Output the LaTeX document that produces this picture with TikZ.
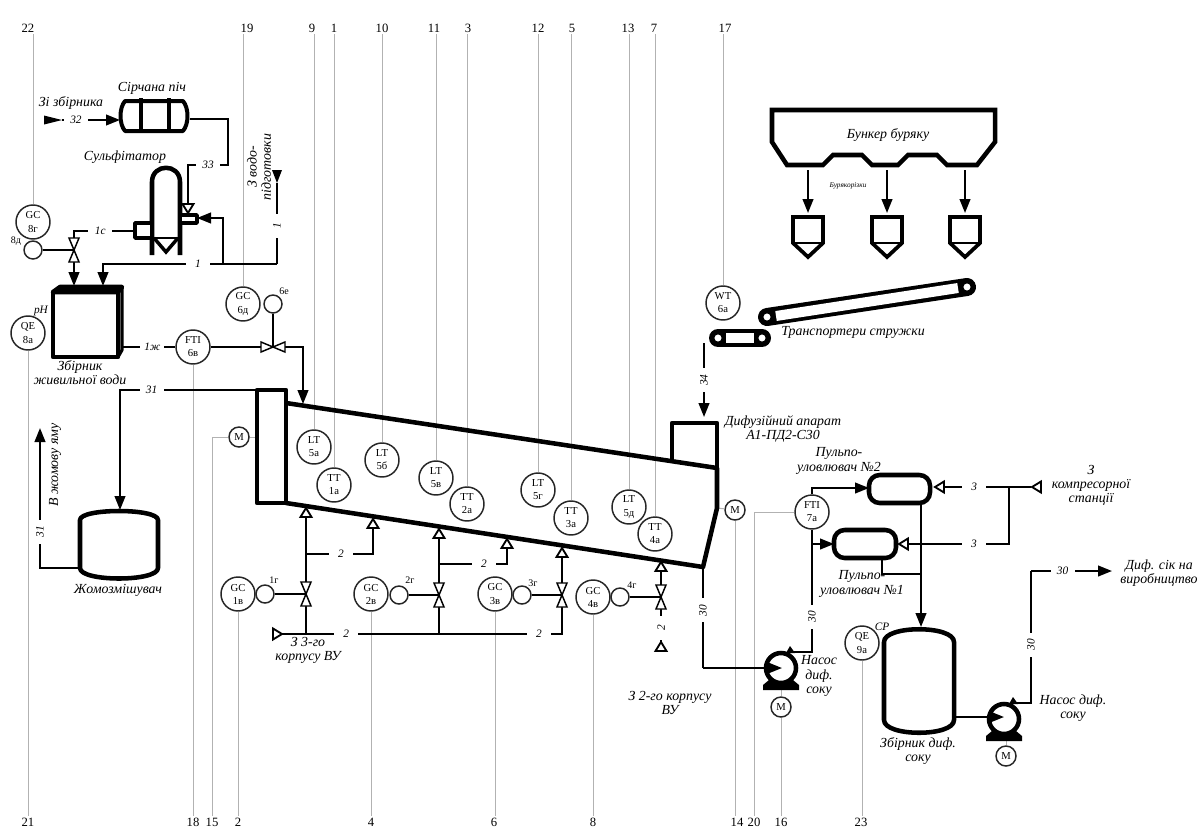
\documentclass[tikz,border=0pt]{standalone}
\usepackage{fontspec}
\setmainfont{Liberation Serif}
\usetikzlibrary{arrows.meta,calc}
\definecolor{leadgray}{gray}{0.7}
\tikzstyle{pipe} = [line width=1.6pt]
\tikzstyle{arrow} = [pipe,-{Triangle[length=10.5pt,width=8pt]}]
\tikzstyle{wall} = [line width=3.4pt,line join=round]
\tikzstyle{leader} = [draw=leadgray,line width=0.75pt]
\tikzstyle{inst} = [circle,draw=black!85,line width=1.1pt,fill=white,minimum size=25.5pt,inner sep=0pt,align=center,font=\fontsize{8}{9.8}\selectfont]
\tikzstyle{motor} = [circle,draw=black!85,line width=1.1pt,fill=white,minimum size=15pt,inner sep=0pt,font=\fontsize{8}{9.8}\selectfont]
\tikzstyle{act} = [circle,draw=black!85,line width=1.1pt,fill=white,minimum size=13.5pt,inner sep=0pt]
\tikzstyle{lbl} = [fill=white,minimum width=18pt,inner sep=0.6pt,font=\fontsize{8.5}{9}\selectfont\itshape]
\tikzstyle{lblv} = [lbl,rotate=90]
\tikzstyle{capt} = [align=center,inner sep=0pt,font=\fontsize{10.4}{10.6}\selectfont\itshape]
\tikzstyle{tagtext} = [inner sep=0pt,font=\fontsize{7.5}{9}\selectfont]
\tikzstyle{num} = [inner sep=1pt,font=\fontsize{9.5}{10}\selectfont]
\tikzset{
  pics/vvalve/.style={code={
    \draw[line width=1.1pt,fill=white,rotate=#1] (-5,-12) -- (5,-12) -- (-5,12) -- (5,12) -- cycle;
  }},
  pics/otri/.style={code={
    \draw[line width=1.4pt,fill=white,rotate=#1] (0,-5) -- (5.5,4) -- (-5.5,4) -- cycle;
  }},
  pics/pumpunit/.style={code={
    \fill (-12,12) -- (12,12) -- (18,17) -- (18,22) -- (-18,22) -- (-18,17) -- cycle;
    \draw[line width=3.4pt,fill=white] (0,0) circle (15);
    \fill (5,-15) -- (9,-22) -- (14,-15) -- cycle;
    \coordinate (-out) at (9,-16);
  }},
  pics/slicer/.style={code={
    \draw[line width=2.8pt,line join=miter,fill=white] (-15,0) -- (15,0) -- (15,26) -- (0,40) -- (-15,26) -- cycle;
    \draw[line width=1.6pt] (-15,26) -- (15,26);
  }}
}
\begin{document}
\begin{tikzpicture}[x=0.75pt,y=-0.75pt]
\useasboundingbox (0,0) rectangle (1201,835);

% instruments
\foreach \id/\x/\y/\a/\b in {gc8g/33/222/GC/8г,qe8a/28/333/QE/8а,gc6d/243/304/GC/6д,fti6v/193/347/FTI/6в,
  gc1v/238/594/GC/1в,gc2v/371/594/GC/2в,gc3v/495/594/GC/3в,gc4v/593/597/GC/4в,
  fti7a/812/512/FTI/7а,qe9a/862/643/QE/9а,wt6a/723/303/WT/6а,
  lt5a/314/447/LT/5а,tt1a/334/485/TT/1а,lt5b/382/460/LT/5б,lt5v/436/478/LT/5в,tt2a/467/504/TT/2а,
  lt5g/538/490/LT/5г,tt3a/571/518/TT/3а,lt5d/629/507/LT/5д,tt4a/655/534/TT/4а}
  {\node[inst] (\id) at (\x,\y) {\a\\\b};}
\node[motor] (m15) at (239,437) {M};
\node[motor] (m14) at (735,510) {M};
\node[motor] (m16) at (781,707) {M};
\node[motor] (m2) at (1006,756) {M};
\foreach \id/\x/\y in {a8d/33/250,a6e/273/304,a1g/265/594,a2g/399/595,a3g/522/595,a4g/620/597}
  {\node[act] (\id) at (\x,\y) {};}
\foreach \id/\x/\y/\t in {t8d/16/241/8д,t6e/284/291/6е,t1g/274/580/1г,t2g/410/580/2г,t3g/533/583/3г,t4g/632/585/4г}
  {\node[tagtext] (\id) at (\x,\y) {\t};}
\node[tagtext,font=\fontsize{8.5}{9}\selectfont\itshape] (tph) at (41,311) {pH};
\node[tagtext,font=\fontsize{8.5}{9}\selectfont\itshape] (tcp) at (882,627) {CP};

% coordinates of the pipes
\coordinate (src32) at (62,120);
\coordinate (furnin) at (120,120);
\coordinate (furnout) at (190,119);
\coordinate (b33a) at (228,165);
\coordinate (b33b) at (188,165);
\coordinate (sulfin) at (188,204);
\coordinate (wtop) at (277,183);
\coordinate (wcorner) at (277,264);
\coordinate (wtee) at (223,264);
\coordinate (wbend) at (103,264);
\coordinate (tankin) at (103,286);
\coordinate (sulfr) at (197,218);
\coordinate (sulfl) at (135,231);
\coordinate (b1c) at (74,231);
\coordinate (v8) at (74,250);
\coordinate (tankv) at (74,286);
\coordinate (tankout) at (122,347);
\coordinate (v6) at (273,347);
\coordinate (difin) at (303,404);
\coordinate (difl) at (257,390);
\coordinate (difr) at (717,508);
\coordinate (b31) at (120,390);
\coordinate (mixtop) at (120,510);
\coordinate (mixl) at (80,568);
\coordinate (b31b) at (40,568);
\coordinate (pit) at (40,428);
\coordinate (src2) at (282,634);
\coordinate (b2) at (562,634);
\coordinate (t1) at (306,513);
\coordinate (t2) at (373,524);
\coordinate (t3) at (439,534);
\coordinate (t4) at (507,544);
\coordinate (t5) at (562,553);
\coordinate (t6) at (661,567);
\coordinate (t7) at (661,648);
\coordinate (v1) at (306,594);
\coordinate (v2) at (439,595);
\coordinate (v3) at (562,595);
\coordinate (v4) at (661,597);
\coordinate (difout) at (703,567);
\coordinate (b30) at (703,668);
\coordinate (p1tip) at (782,668);
\coordinate (vs2in) at (869,488);
\coordinate (vs1in) at (834,544);
\coordinate (vs2out) at (921,503);
\coordinate (vs1out) at (882,558);
\coordinate (stin) at (921,627);
\coordinate (joint) at (921,574);
\coordinate (airsrc) at (1031,487);
\coordinate (vs2r) at (945,487);
\coordinate (airtee) at (1009,487);
\coordinate (vs1r) at (909,544);
\coordinate (stout) at (954,717);
\coordinate (p2tip) at (1004,717);
\coordinate (b30b) at (1031,571);
\coordinate (prod) at (1112,571);
\coordinate (convout) at (704,343);
\coordinate (difhop) at (704,417);

% leaders
\foreach \n/\i/\x in {22/gc8g/28,19/gc6d/247,9/lt5a/312,1/tt1a/334,10/lt5b/382,11/lt5v/434,3/tt2a/468,12/lt5g/538,5/tt3a/572,13/lt5d/628,7/tt4a/654,17/wt6a/725}
  {\node[num] (n\n) at (\x,28) {\n};
   \draw[leader] (\i.north) -- (\i |- n\n.south);}
\foreach \n/\i/\x in {21/qe8a/28,18/fti6v/193,2/gc1v/238,4/gc2v/371,6/gc3v/494,8/gc4v/593,14/m14/737,16/m16/781,23/qe9a/861}
  {\node[num] (n\n) at (\x,822) {\n};
   \draw[leader] (\i.south) -- (\i |- n\n.north);}
\node[num] (n15) at (212,822) {15};
\node[num] (n20) at (754,822) {20};
\draw[leader] (m15) -| (n15.north);
\draw[leader] (fti7a) -| (n20.north);
\draw[leader] (m15) -- (difl |- m15);
\draw[leader] (m16) -- (m16 |- p1tip);
\draw[leader] (m2) -- (m2 |- p2tip);
\draw[leader] (m14) -- (difr);

% pipes
\draw[arrow] (src32) -- node[lbl,pos=.24] {32} (furnin);
\draw[pipe] (furnout) -| (b33a) -- node[lbl] {33} (b33b) -- (sulfin);
\draw[pipe] (wtop) -- node[lblv,pos=.53] {1} (wcorner);
\draw[arrow] (wcorner) -- node[lbl,pos=.455] {1} (wbend) -- (tankin);
\draw[arrow] (wtee) |- (sulfr);
\draw[pipe] (sulfl) -- node[lbl,pos=.57] {1с} (b1c) -- (v8);
\draw[pipe] (a8d) -- (v8);
\draw[arrow] (v8) -- (tankv);
\draw[pipe] (tankout) -- node[lbl,pos=.57] {1ж} (fti6v);
\draw[arrow] (fti6v) -- (v6) -| (difin);
\draw[pipe] (a6e) -- (v6);
\draw[arrow] (difl) -- node[lbl,pos=.77] {31} (b31) -- (mixtop);
\draw[arrow] (mixl) -- (b31b) -- node[lblv,pos=.26] {31} (pit);
\draw[pipe] (src2) -- node[lbl,pos=.229] {2} node[lbl,pos=.918] {2} (b2) -- (t5);
\draw[pipe] (src2 -| v1) -- (t1);
\draw[pipe] (src2 -| v2) -- (t3);
\draw[pipe] (t1 |- 0,554) -| node[lbl,pos=.26] {2} (t2);
\draw[pipe] (t3 |- 0,564) -| node[lbl,pos=.33] {2} (t4);
\draw[pipe] (t6) -- node[lblv,pos=.75] {2} (t7);
\foreach \a/\v in {a1g/v1,a2g/v2,a3g/v3,a4g/v4} {\draw[pipe] (\a) -- (\v);}
\draw[pipe] (difout) -- node[lblv,pos=.43] {30} (b30);
\draw[arrow] (fti7a) |- (vs2in);
\draw[arrow] (fti7a |- vs1in) -- (vs1in);
\draw[pipe] (fti7a) -- (fti7a |- vs1in);
\draw[arrow] (vs2out) -- (stin);
\draw[pipe] (vs1out) |- (joint);
\draw[pipe] (airsrc) -- node[lbl,pos=.66] {3} (vs2r);
\draw[pipe] (airtee) |- node[lbl,pos=.675] {3} (vs1r);
\draw[arrow] (convout) -- node[lblv,pos=.5] {34} (difhop);

% pumps
\pic (p1) at (781,668) {pumpunit};
\pic (p2) at (1004,719) {pumpunit};
\draw[arrow] (b30) -- (p1tip);
\draw[arrow] (stout) -- (p2tip);
\draw[pipe] (p1-out) -| node[lblv,pos=.645] {30} (fti7a);
\draw[pipe] (p2-out) -| node[lblv,pos=.72] {30} (b30b);
\draw[arrow] (b30b) -- node[lbl,pos=.39] {30} (prod);

% vessels
\draw[wall,fill=white] (257,390) rectangle (286,503);
\draw[wall] (286,403) -- (717,468) -- (717,508) -- (703,567) -- (286,503);
\draw[wall] (672,460) -- (672,423) -- (717,423) -- (717,468);
\draw[wall,fill=white] (53,292) -- (118,292) -- (118,357) -- (53,357) -- cycle;
\draw[wall,fill=black] (53,292) -- (60,287) -- (122,287) -- (118,292) -- cycle;
\draw[line width=2.4pt,line join=round] (122,287) -- (122,350) -- (118,357);
\draw[wall] (80,520) .. controls (80,508) and (158,508) .. (158,520) -- (158,568) .. controls (158,582) and (80,582) .. (80,568) -- cycle;
\draw[wall] (884,642) .. controls (884,625) and (954,625) .. (954,642) -- (954,720) .. controls (954,737) and (884,737) .. (884,720) -- cycle;
\draw[wall,rounded corners=8pt] (869,475) rectangle (930,503);
\draw[wall,rounded corners=8pt] (834,530) rectangle (896,558);
\draw[line width=3pt,line join=round,fill=white] (125,101) -- (183,101) .. controls (189,108) and (189,124) .. (183,131) -- (125,131) .. controls (119,124) and (119,108) .. (125,101) -- cycle;
\draw[line width=2.6pt] (141,98) -- (141,133);
\draw[line width=2.6pt] (169,98) -- (169,133);
\draw[wall] (152,255) -- (152,182) .. controls (152,163) and (180,163) .. (180,182) -- (180,255);
\draw[wall,line width=2.6pt,fill=white] (135,223) rectangle (152,238);
\draw[wall,line width=2.6pt,fill=white] (180,215) rectangle (197,223);
\draw[line width=1pt] (152,238) -- (180,238);
\draw[line width=2.6pt] (154,238) -- (166,252) -- (178,238);
\draw[wall,line join=miter] (772,110) -- (995,110) -- (995,142) -- (977,165) -- (947,165) -- (937,155) -- (908,155) -- (898,165) -- (872,165) -- (862,155) -- (833,155) -- (823,165) -- (787,165) -- (772,142) -- cycle;
\fill (44,115.5) -- (62,120) -- (44,124.5) -- cycle;
\fill (272,170) -- (282,170) -- (277,183) -- cycle;

% conveyors
\draw[line width=13.5pt,line cap=round] (718,338) -- (762,338);
\draw[line width=8pt,line cap=butt,white] (726,338) -- (754,338);
\draw[line width=13.5pt,line cap=round] (767,317) -- (967,287);
\draw[line width=7.5pt,line cap=butt,white] (776,316) -- (958,288);
\foreach \x/\y in {718/338,762/338,767/317,967/287}
  {\draw[line width=2.6pt,fill=white] (\x,\y) circle (5.5);}

% beet cutters
\foreach \x in {808,887,965}
  {\coordinate (bk\x) at (\x,170);
   \coordinate (cut\x) at (\x,213);
   \draw[arrow] (bk\x) -- (cut\x);
   \pic at (\x,217) {slicer};}

% valves and markers
\pic at (v8) {vvalve=0};
\pic at (v6) {vvalve=90};
\foreach \v in {v1,v2,v3,v4} {\pic at (\v) {vvalve=0};}
\foreach \t in {t1,t2,t3,t4,t5,t6} {\pic at (\t) {otri=0};}
\pic at (661,647) {otri=0};
\pic at (277,634) {otri=-90};
\pic at (188,208) {otri=180};
\pic at (940,487) {otri=90};
\pic at (904,544) {otri=90};
\pic at (1037,487) {otri=90};

% captions
\node[capt] (cfrom) at (71,103) {Зі збірника};
\node[capt] (cfurn) at (152,88) {Сірчана піч};
\node[capt] (csulf) at (125,157) {Сульфітатор};
\node[capt,rotate=90] (cwater) at (259,167) {З водо-\\підготовки};
\node[capt] (ctank) at (80,373) {Збірник\\живильної води};
\node[capt,rotate=90] (cpit) at (55,465) {В жомову яму};
\node[capt] (cmix) at (118,590) {Жомозмішувач};
\node[capt] (c3vu) at (308,650) {З 3-го\\корпусу ВУ};
\node[capt] (c2vu) at (670,703) {З 2-го корпусу\\ВУ};
\node[capt] (cdif) at (783,429) {Дифузійний апарат\\А1-ПД2-С30};
\node[capt] (cvs2) at (839,461) {Пульпо-\\уловлювач №2};
\node[capt] (cvs1) at (862,584) {Пульпо-\\уловлювач №1};
\node[capt] (cair) at (1091,485) {З\\компресорної\\станції};
\node[capt] (cprod) at (1159,573) {Диф. сік на\\виробництво};
\node[capt] (cp1) at (819,676) {Насос\\диф.\\соку};
\node[capt] (cp2) at (1073,708) {Насос диф.\\соку};
\node[capt] (cst) at (918,751) {Збірник диф.\\соку};
\node[capt] (cbunk) at (888,135) {Бункер буряку};
\node[capt,font=\fontsize{5.5}{6}\selectfont\itshape] (ccut) at (848,186) {Бурякорізки};
\node[capt] (cconv) at (853,332) {Транспортери стружки};

\end{tikzpicture}
\end{document}
